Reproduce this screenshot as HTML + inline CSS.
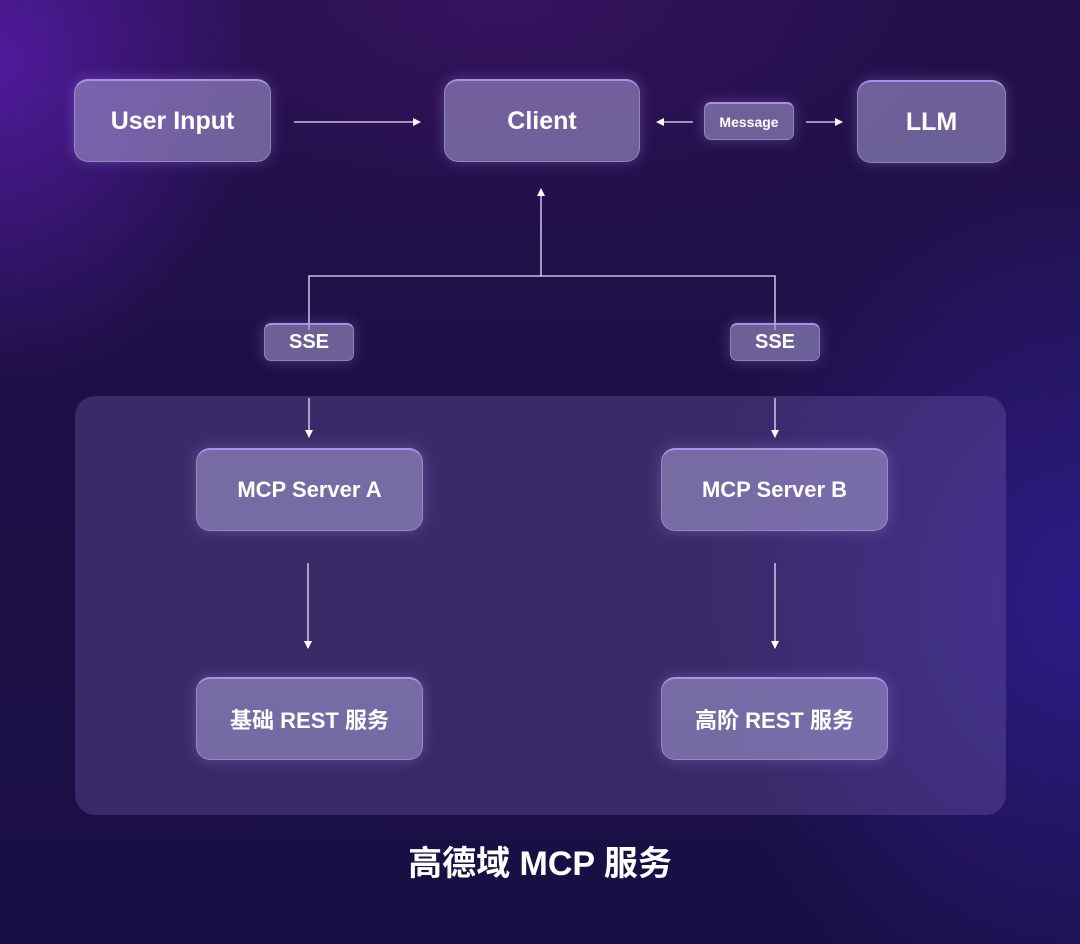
<!DOCTYPE html>
<html><head><meta charset="utf-8"><style>
*{margin:0;padding:0;box-sizing:border-box}
body{width:1080px;height:944px;overflow:hidden;position:relative;font-family:"Liberation Sans","Noto Sans CJK SC",sans-serif;
background:
radial-gradient(ellipse 380px 460px at 0px 60px, rgba(100,30,190,0.7), rgba(100,30,190,0) 70%),
radial-gradient(ellipse 500px 600px at 1080px 600px, rgba(50,30,150,0.8), rgba(50,30,150,0) 75%),
radial-gradient(ellipse 600px 300px at 500px 0px, rgba(70,20,110,0.55), rgba(70,20,110,0) 80%),
linear-gradient(180deg,#22104a 0%,#1c1045 60%,#1a0f45 100%);}
.b{position:absolute;border-radius:14px;background:rgba(160,150,205,0.6);border:1px solid rgba(200,185,240,0.4);border-top:2px solid rgba(190,160,250,0.75);
box-shadow:0 0 14px rgba(180,160,255,0.3);color:#fff;font-weight:bold;display:flex;align-items:center;justify-content:center;font-size:24px}
.s{border-radius:7px;font-size:20px}
.c{position:absolute;left:75px;top:396px;width:931px;height:419px;border-radius:20px;background:rgba(125,105,185,0.3)}
.t{position:absolute;left:0;width:1080px;top:836px;text-align:center;color:#fff;font-size:34px;font-weight:bold}
svg{position:absolute;left:0;top:0}
</style></head><body>
<div class="c"></div>
<svg width="1080" height="944">
<defs><marker id="a" markerWidth="8" markerHeight="8" refX="7" refY="4" orient="auto" markerUnits="userSpaceOnUse"><path d="M0,0 L8,4 L0,8z" fill="#fff"/></marker></defs>
<g stroke="#e8e0ff" stroke-width="1.3" fill="none">
<line x1="294" y1="122" x2="420" y2="122" marker-end="url(#a)"/>
<line x1="693" y1="122" x2="657" y2="122" marker-end="url(#a)"/>
<line x1="806" y1="122" x2="842" y2="122" marker-end="url(#a)"/>
<line x1="541" y1="276" x2="541" y2="189" marker-end="url(#a)"/>
<polyline points="309,330 309,276 775,276 775,330"/>
<line x1="309" y1="398" x2="309" y2="437" marker-end="url(#a)"/>
<line x1="775" y1="398" x2="775" y2="437" marker-end="url(#a)"/>
<line x1="308" y1="563" x2="308" y2="648" marker-end="url(#a)"/>
<line x1="775" y1="563" x2="775" y2="648" marker-end="url(#a)"/>
</g></svg>
<div class="b" style="left:74px;top:79px;width:197px;height:83px;font-size:25px">User Input</div>
<div class="b" style="left:444px;top:79px;width:196px;height:83px;font-size:25px">Client</div>
<div class="b s" style="left:704px;top:102px;width:90px;height:38px;font-size:14px">Message</div>
<div class="b" style="left:857px;top:80px;width:149px;height:83px;font-size:25px">LLM</div>
<div class="b s" style="left:264px;top:323px;width:90px;height:38px">SSE</div>
<div class="b s" style="left:730px;top:323px;width:90px;height:38px">SSE</div>
<div class="b" style="left:196px;top:448px;width:227px;height:83px;font-size:22px">MCP Server A</div>
<div class="b" style="left:661px;top:448px;width:227px;height:83px;font-size:22px">MCP Server B</div>
<div class="b" style="left:196px;top:677px;width:227px;height:83px;font-size:22px">基础 REST 服务</div>
<div class="b" style="left:661px;top:677px;width:227px;height:83px;font-size:22px">高阶 REST 服务</div>
<div class="t">高德域 MCP 服务</div>
</body></html>
